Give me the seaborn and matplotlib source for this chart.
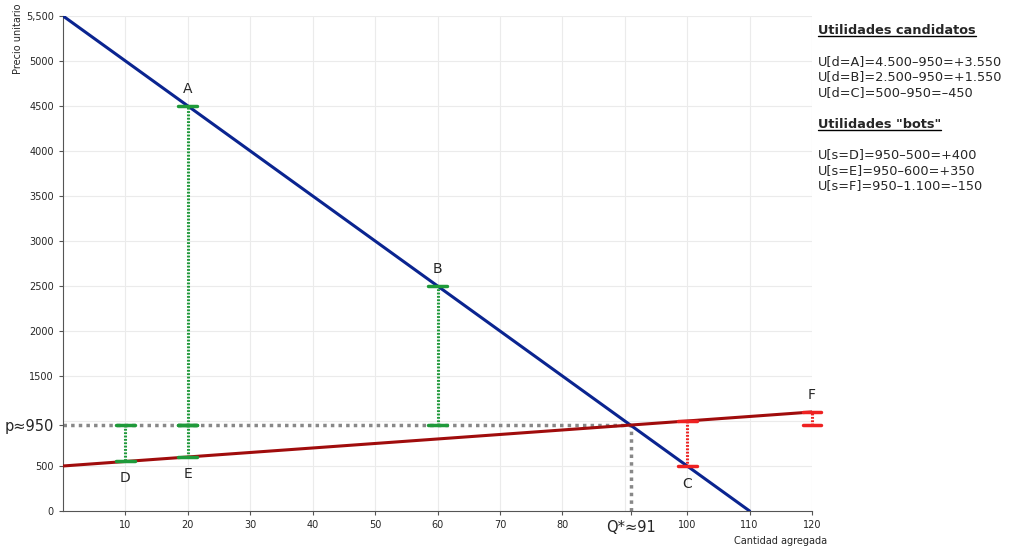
import matplotlib.pyplot as plt
import seaborn as sns

# curves
demand_q = [0, 110]
demand_p = [5500, 0]
supply_q = [0, 120]
supply_p = [500, 1100]

price = 950
q_star = 91

# candidate (buyer) points and bot (seller) points
buyer_names = ["A", "B", "C"]
buyer_q = [20, 60, 100]
buyer_p = [4500, 2500, 500]
buyer_top = [950, 950, 1000]

seller_names = ["D", "E", "F"]
seller_q = [10, 20, 120]
seller_p = [550, 600, 1100]
seller_ref = [950, 950, 950]

x_ticks = [10, 20, 30, 40, 50, 60, 70, 80, 91, 100, 110, 120]
x_labels = ["10", "20", "30", "40", "50", "60", "70", "80", "Q*\u224891", "100", "110", "120"]
y_ticks = [0, 500, 950, 1500, 2000, 2500, 3000, 3500, 4000, 4500, 5000, 5500]
y_labels = ["0", "500", "p\u2248950", "1500", "2000", "2500", "3000", "3500", "4000", "4500", "5000", "5,500"]
grid_x = [10, 20, 30, 40, 50, 60, 70, 80, 90, 100, 110, 120]
grid_y = [500, 1000, 1500, 2000, 2500, 3000, 3500, 4000, 4500, 5000, 5500]

notes_buyers = ["U[d=A]=4.500\u2013950=+3.550", "U[d=B]=2.500\u2013950=+1.550", "U[d=C]=500\u2013950=\u2013450"]
notes_bots = ["U[s=D]=950\u2013500=+400", "U[s=E]=950\u2013600=+350", "U[s=F]=950\u20131.100=\u2013150"]

sns.set_style("white")
plt.rcParams['font.family'] = ['DejaVu Sans']

fig = plt.figure(figsize=(10.24, 5.55), dpi=100)
ax = fig.add_axes([0.0615, 0.0793, 0.7315, 0.892])

green = "#1f9a3a"
red = "#ee2222"
navy = "#0a2490"
darkred = "#a00c0c"
grey = "#888888"

# light grid at round values
for gx in grid_x:
    ax.axvline(gx, color="#ebebeb", lw=0.8, zorder=0)
for gy in grid_y:
    ax.axhline(gy, color="#ebebeb", lw=0.8, zorder=0)

# equilibrium guides
ax.plot([0, q_star], [price, price], color=grey, lw=2.5, ls=(0, (1, 1.2)), zorder=2)
ax.plot([q_star, q_star], [0, price], color=grey, lw=2.5, ls=(0, (1, 1.2)), zorder=2)

sns.lineplot(x=demand_q, y=demand_p, ax=ax, color=navy, lw=2.2, zorder=3)
sns.lineplot(x=supply_q, y=supply_p, ax=ax, color=darkred, lw=2.2, zorder=3)

cap = 1.5
for name, q, p, top in zip(buyer_names, buyer_q, buyer_p, buyer_top):
    c = green if p > top else red
    ax.plot([q, q], [top, p], color=c, lw=2.2, ls=(0, (0.6, 0.5)), zorder=4)
    ax.plot([q - cap, q + cap], [p, p], color=c, lw=2.5, zorder=5)
    ax.plot([q - cap, q + cap], [top, top], color=c, lw=2.5, zorder=5)
    if p > top:
        ax.text(q, p + 110, name, ha="center", va="bottom", fontsize=10)
    else:
        ax.text(q, p - 120, name, ha="center", va="top", fontsize=10)

for name, q, p, ref in zip(seller_names, seller_q, seller_p, seller_ref):
    c = green if p < ref else red
    ax.plot([q, q], [ref, p], color=c, lw=2.2, ls=(0, (0.6, 0.5)), zorder=4, clip_on=False)
    ax.plot([q - cap, q + cap], [p, p], color=c, lw=2.5, zorder=5, clip_on=False)
    ax.plot([q - cap, q + cap], [ref, ref], color=c, lw=2.5, zorder=5, clip_on=False)
    if p < ref:
        ax.text(q, p - 110, name, ha="center", va="top", fontsize=10)
    else:
        ax.text(q, p + 110, name, ha="center", va="bottom", fontsize=10)

ax.set_xlim(0, 120)
ax.set_ylim(0, 5500)
ax.set_xticks(x_ticks)
ax.set_xticklabels(x_labels)
ax.set_yticks(y_ticks)
ax.set_yticklabels(y_labels)
ax.tick_params(axis="both", labelsize=7, length=3, direction="out", color="#555555")
ax.tick_params(axis="x", bottom=True)
ax.tick_params(axis="y", left=True)
for lbl in ax.get_xticklabels() + ax.get_yticklabels():
    if "\u2248" in lbl.get_text():
        lbl.set_fontsize(10.5)
sns.despine(ax=ax)
ax.spines["left"].set_color("#555555")
ax.spines["bottom"].set_color("#555555")

fig.text(0.762, 0.017, "Cantidad agregada", ha="center", va="bottom", fontsize=7)
fig.text(0.018, 0.93, "Precio unitario", rotation=90, ha="center", va="center", fontsize=7)

# notes on the right
x0 = 0.799
fs = 9.3
h1 = fig.text(x0, 0.945, "Utilidades candidatos", fontsize=fs, fontweight="bold", va="center")
for t, y in zip(notes_buyers, [0.89, 0.862, 0.834]):
    fig.text(x0, y, t, fontsize=fs, va="center")
h2 = fig.text(x0, 0.776, "Utilidades \"bots\"", fontsize=fs, fontweight="bold", va="center")
for t, y in zip(notes_bots, [0.721, 0.693, 0.665]):
    fig.text(x0, y, t, fontsize=fs, va="center")

# underline headings to the width of their text
fig.canvas.draw()
for h in (h1, h2):
    bb = h.get_window_extent().transformed(fig.transFigure.inverted())
    fig.add_artist(plt.Line2D([bb.x0, bb.x1], [bb.y0 + 0.001, bb.y0 + 0.001], color="black", lw=1))

fig.savefig("out.png", dpi=100)
